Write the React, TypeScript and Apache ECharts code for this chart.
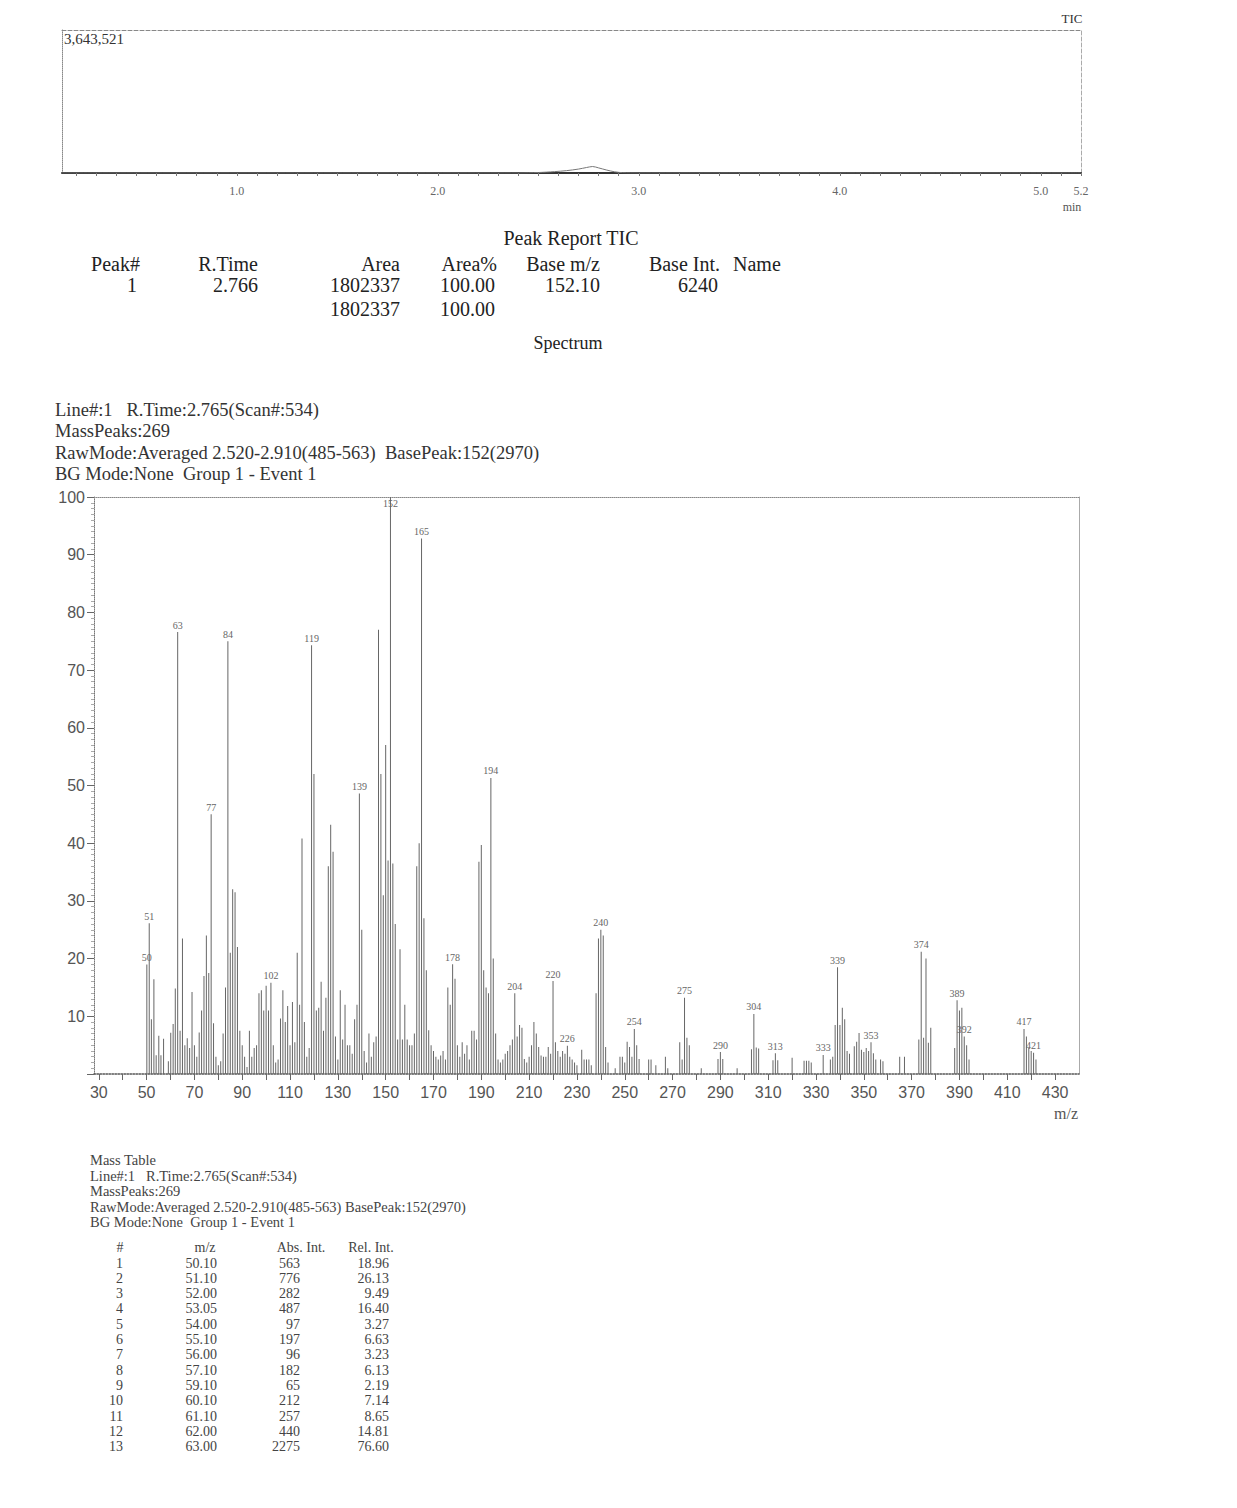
import React, { useEffect, useRef } from "react";
import * as echarts from "echarts";

// ---------------- TIC chromatogram ----------------
const ticTimes = [0.13, 2.4, 2.5, 2.58, 2.64, 2.7, 2.74, 2.77, 2.8, 2.84, 2.88, 2.92, 3.0, 5.2];
const ticIntensity = [0, 0, 12000, 35000, 60000, 100000, 140000, 165000, 130000, 75000, 30000, 8000, 0, 0];
const ticFullScaleLabel = "3,643,521";
const ticFullScale = 3643521;
const ticAxisLabels = [1.0, 2.0, 3.0, 4.0, 5.0, 5.2];

// ---------------- Peak report ----------------
const peakReportTitle = "Peak Report TIC";
const peakColumns = ["Peak#", "R.Time", "Area", "Area%", "Base m/z", "Base Int.", "Name"];
const peakRow = ["1", "2.766", "1802337", "100.00", "152.10", "6240", ""];
const peakTotals = ["", "", "1802337", "100.00", "", "", ""];

// ---------------- Spectrum ----------------
const spectrumTitle = "Spectrum";
const spectrumInfo = [
  "Line#:1   R.Time:2.765(Scan#:534)",
  "MassPeaks:269",
  "RawMode:Averaged 2.520-2.910(485-563)  BasePeak:152(2970)",
  "BG Mode:None  Group 1 - Event 1",
];
const mzValues = [
  50.1, 51.1, 52.0, 53.05, 54.0, 55.1, 56.0, 57.1, 59.1, 60.1, 61.1, 62.0, 63.0,
  64, 65, 66, 67, 68, 69, 70, 71, 72, 73, 74, 75, 76, 77, 78, 79, 80, 81, 82, 83, 84, 85, 86, 87, 88, 89,
  90, 91, 92, 93, 94, 95, 96, 97, 98, 99, 100, 101, 102, 103, 104, 105, 106, 107, 108, 109,
  110, 111, 112, 113, 114, 115, 116, 117, 118, 119, 120, 121, 122, 123, 124, 125, 126, 127, 128, 129,
  130, 131, 132, 133, 134, 135, 136, 137, 138, 139, 140, 141, 142, 143, 144, 145, 146, 147, 148, 149,
  150, 151, 152, 153, 154, 155, 156, 157, 158, 159, 160, 161, 162, 163, 164, 165, 166, 167, 168, 169,
  170, 171, 172, 173, 174, 175, 176, 177, 178, 179, 180, 181, 182, 183, 184, 185, 186, 187, 188, 189,
  190, 191, 192, 193, 194, 195, 196, 197, 198, 199, 200, 201, 202, 203, 204, 205, 206, 207, 208, 209,
  210, 211, 212, 213, 214, 215, 216, 217, 218, 219, 220, 221, 222, 223, 224, 225, 226, 227, 228, 229,
  230, 232, 233, 234, 235, 236, 238, 239, 240, 241, 242, 243, 246, 248, 249, 250, 251, 252, 253, 254,
  255, 256, 260, 261, 263, 267, 268, 273, 274, 275, 276, 277, 282, 289, 290, 291, 297,
  303, 304, 305, 306, 312, 313, 314, 320, 325, 326, 327, 328, 333, 336, 337, 338, 339,
  340, 341, 342, 343, 344, 346, 347, 348, 349, 350, 351, 352, 353, 354, 355, 357, 358, 365, 367,
  373, 374, 375, 376, 377, 378, 388, 389, 390, 391, 392, 393, 394, 417, 418, 419, 420, 421, 422,
];
const relIntensity = [
  18.96, 26.13, 9.49, 16.4, 3.27, 6.63, 3.23, 6.13, 2.19, 7.14, 8.65, 14.81, 76.6,
  7.5, 23.5, 5.0, 6.2, 4.5, 14.2, 5.0, 3.0, 7.2, 11.0, 17.0, 24.0, 17.5, 45.0, 8.8, 3.0, 1.5, 2.2, 7.0, 15.0, 75.0, 21.0, 32.0, 31.5, 22.0, 7.5,
  5.0, 3.0, 1.2, 7.5, 3.0, 4.5, 5.0, 14.0, 14.5, 11.0, 15.3, 11.0, 15.8, 5.0, 2.0, 2.5, 9.6, 14.5, 9.0, 11.8,
  5.0, 12.5, 5.5, 21.0, 12.0, 40.8, 9.0, 3.0, 4.5, 74.3, 52.0, 11.0, 11.5, 16.0, 7.5, 13.2, 36.0, 43.2, 38.5, 6.5,
  2.5, 14.5, 6.0, 12.0, 5.0, 5.0, 3.5, 9.5, 12.0, 48.6, 25.0, 4.0, 2.0, 7.0, 3.0, 5.5, 6.5, 77.0, 52.0, 31.0,
  57.0, 37.0, 100, 36.5, 26.0, 6.0, 21.6, 6.0, 12.0, 6.0, 5.0, 5.0, 7.0, 36.0, 40.0, 92.8, 27.0, 18.0, 7.6, 5.0,
  4.0, 3.0, 2.5, 3.2, 4.0, 2.5, 15.0, 12.0, 19.0, 16.5, 5.0, 3.0, 5.5, 3.5, 5.0, 2.5, 7.5, 7.5, 6.0, 36.8,
  39.7, 18.0, 15.0, 14.0, 51.3, 20.0, 7.0, 2.5, 2.0, 2.5, 3.5, 4.0, 5.0, 6.0, 14.0, 6.5, 8.5, 8.0, 2.6, 2.0,
  3.0, 5.0, 9.0, 7.0, 4.7, 3.2, 3.0, 3.0, 4.7, 3.5, 16.1, 5.5, 4.0, 3.0, 4.0, 3.5, 4.9, 3.0, 2.5, 2.0,
  1.5, 4.2, 2.5, 2.5, 2.5, 1.5, 14.0, 23.5, 25.0, 24.0, 4.7, 2.0, 1.0, 3.0, 3.0, 2.0, 5.6, 4.7, 3.0, 7.8,
  5.0, 2.6, 2.5, 2.5, 1.5, 3.0, 1.0, 5.5, 2.5, 13.2, 6.3, 5.0, 1.0, 2.6, 3.8, 2.6, 1.0,
  4.3, 10.4, 4.6, 4.4, 2.4, 3.6, 2.4, 2.8, 2.3, 2.3, 2.3, 2.0, 3.3, 2.5, 3.0, 8.5, 18.5,
  8.5, 11.5, 9.5, 4.0, 3.5, 4.8, 5.6, 7.1, 4.2, 3.8, 4.5, 4.0, 5.5, 3.6, 2.5, 2.5, 2.2, 3.0, 3.0,
  6.0, 21.2, 6.3, 20.0, 5.4, 8.0, 4.5, 12.8, 11.0, 11.5, 6.5, 5.0, 2.5, 7.8, 6.5, 4.5, 4.0, 3.7, 2.5,
];
const labeledMz = [50, 51, 63, 77, 84, 102, 119, 139, 152, 165, 178, 194, 204, 220, 226, 240, 254, 275, 290, 304, 313, 333, 339, 353, 374, 389, 392, 417, 421];
const mzAxisLabels = [30, 50, 70, 90, 110, 130, 150, 170, 190, 210, 230, 250, 270, 290, 310, 330, 350, 370, 390, 410, 430];
const mzAxisTicks = [30, 40, 50, 60, 70, 80, 90, 100, 110, 120, 130, 140, 150, 160, 170, 180, 190, 200, 210, 220, 230, 240, 250, 260, 270, 280, 290, 300, 310, 320, 330, 340, 350, 360, 370, 380, 390, 400, 410, 420, 430];
const relAxisLabels = [10, 20, 30, 40, 50, 60, 70, 80, 90, 100];
const mzAxisName = "m/z";

// ---------------- Mass table ----------------
const massTableInfo = [
  "Mass Table",
  "Line#:1   R.Time:2.765(Scan#:534)",
  "MassPeaks:269",
  "RawMode:Averaged 2.520-2.910(485-563) BasePeak:152(2970)",
  "BG Mode:None  Group 1 - Event 1",
];
const massColumns = ["#", "m/z", "Abs. Int.", "Rel. Int."];
const massNo = ["1", "2", "3", "4", "5", "6", "7", "8", "9", "10", "11", "12", "13"];
const massMz = ["50.10", "51.10", "52.00", "53.05", "54.00", "55.10", "56.00", "57.10", "59.10", "60.10", "61.10", "62.00", "63.00"];
const massAbs = ["563", "776", "282", "487", "97", "197", "96", "182", "65", "212", "257", "440", "2275"];
const massRel = ["18.96", "26.13", "9.49", "16.40", "3.27", "6.63", "3.23", "6.13", "2.19", "7.14", "8.65", "14.81", "76.60"];

const SERIF = '"Liberation Serif", "Times New Roman", serif';
const SANS = '"Liberation Sans", Arial, sans-serif';

function txt(text: string, x: number, y: number, size: number, align: string = "left", fill: string = "#222") {
  return {
    type: "text",
    x,
    y,
    silent: true,
    style: { text, fill, fontSize: size, fontFamily: SERIF, align, verticalAlign: "middle" },
  };
}

export default function App() {
  const ref = useRef<HTMLDivElement>(null);

  useEffect(() => {
    if (!ref.current) return;
    const chart = echarts.init(ref.current, undefined, { renderer: "svg" });

    const ticTicks: number[] = [];
    for (let i = 2; i <= 52; i++) ticTicks.push(i / 10);

    const graphics: any[] = [];
    // TIC texts
    graphics.push(txt("TIC", 1072, 18, 13, "center", "#333"));
    graphics.push(txt(ticFullScaleLabel, 64, 39, 15, "left", "#333"));
    graphics.push(txt("min", 1072, 207, 12, "center", "#555"));
    // Peak report
    graphics.push(txt(peakReportTitle, 571, 238, 20, "center"));
    const colX = [140, 258, 400, 497, 600, 720, 733];
    const colAlign = ["right", "right", "right", "right", "right", "right", "left"];
    const valX = [137, 258, 400, 495, 600, 718, 733];
    peakColumns.forEach((c, i) => graphics.push(txt(c, colX[i], 264, 20, colAlign[i])));
    peakRow.forEach((c, i) => c && graphics.push(txt(c, valX[i], 285, 20, colAlign[i])));
    peakTotals.forEach((c, i) => c && graphics.push(txt(c, valX[i], 309, 20, colAlign[i])));
    graphics.push(txt(spectrumTitle, 568, 343, 18, "center"));
    // Spectrum info
    spectrumInfo.forEach((s, i) => graphics.push(txt(s, 55, 410 + i * 21.3, 18.5, "left", "#333")));
    graphics.push(txt(mzAxisName, 1066, 1113, 16, "center", "#555"));
    // Mass table
    massTableInfo.forEach((s, i) => graphics.push(txt(s, 90, 1160 + i * 15.5, 14.5, "left", "#444")));
    const mtX = [123, 217, 300, 389];
    graphics.push(txt(massColumns[0], 120, 1247, 14, "center", "#444"));
    graphics.push(txt(massColumns[1], 205, 1247, 14, "center", "#444"));
    graphics.push(txt(massColumns[2], 301, 1247, 14, "center", "#444"));
    graphics.push(txt(massColumns[3], 371, 1247, 14, "center", "#444"));
    massNo.forEach((_, i) => {
      const y = 1263 + i * 15.3;
      graphics.push(txt(massNo[i], mtX[0], y, 14, "right", "#444"));
      graphics.push(txt(massMz[i], mtX[1], y, 14, "right", "#444"));
      graphics.push(txt(massAbs[i], mtX[2], y, 14, "right", "#444"));
      graphics.push(txt(massRel[i], mtX[3], y, 14, "right", "#444"));
    });

    const spectrumData = mzValues.map((mz, i) => {
      const r = Math.round(mz);
      const show = labeledMz.includes(r);
      return {
        value: [mz, relIntensity[i]],
        label: r === 152 ? { show, position: "insideTop", distance: 1 } : { show },
      };
    });

    const option: any = {
      animation: false,
      backgroundColor: "#fff",
      grid: [
        { left: 62, top: 30, width: 1019, height: 143 },
        { left: 94, top: 497, width: 985, height: 577 },
      ],
      xAxis: [
        {
          type: "value",
          gridIndex: 0,
          min: 0.13,
          max: 5.2,
          axisLine: { show: true, onZero: false, lineStyle: { color: "#333", width: 2 } },
          axisTick: { show: true, customValues: ticTicks, length: 3, lineStyle: { color: "#777" } },
          axisLabel: {
            customValues: ticAxisLabels,
            formatter: (v: number) => v.toFixed(1),
            fontFamily: SERIF,
            fontSize: 12,
            color: "#666",
            margin: 12,
          },
          splitLine: { show: false },
        },
        {
          type: "value",
          gridIndex: 0,
          position: "top",
          min: 0.13,
          max: 5.2,
          axisLine: { show: true, onZero: false, lineStyle: { color: "#888", type: "dashed", width: 1 } },
          axisTick: { show: false },
          axisLabel: { show: false },
          splitLine: { show: false },
        },
        {
          type: "value",
          gridIndex: 1,
          min: 28,
          max: 440,
          axisLine: { show: true, onZero: false, lineStyle: { color: "#555", width: 1.5, type: "dotted" } },
          axisTick: { show: true, customValues: mzAxisTicks, length: 6, lineStyle: { color: "#666" } },
          axisLabel: {
            customValues: mzAxisLabels,
            fontFamily: SANS,
            fontSize: 16,
            color: "#555",
            margin: 10,
          },
          splitLine: { show: false },
        },
        {
          type: "value",
          gridIndex: 1,
          position: "top",
          min: 28,
          max: 440,
          axisLine: { show: true, onZero: false, lineStyle: { color: "#888", type: "dotted", width: 1 } },
          axisTick: { show: false },
          axisLabel: { show: false },
          splitLine: { show: false },
        },
      ],
      yAxis: [
        {
          type: "value",
          gridIndex: 0,
          min: 0,
          max: ticFullScale,
          axisLine: { show: true, onZero: false, lineStyle: { color: "#888", type: "dotted" } },
          axisTick: { show: false },
          axisLabel: { show: false },
          splitLine: { show: false },
        },
        {
          type: "value",
          gridIndex: 0,
          position: "right",
          min: 0,
          max: ticFullScale,
          axisLine: { show: true, onZero: false, lineStyle: { color: "#aaa", type: "dashed", width: 1 } },
          axisTick: { show: false },
          axisLabel: { show: false },
          splitLine: { show: false },
        },
        {
          type: "value",
          gridIndex: 1,
          min: 0,
          max: 100,
          interval: 10,
          axisLine: { show: true, onZero: false, lineStyle: { color: "#777", type: "dotted" } },
          axisTick: { show: true, length: 7, lineStyle: { color: "#666" } },
          minorTick: { show: true, splitNumber: 10, length: 3, lineStyle: { color: "#aaa" } },
          axisLabel: {
            formatter: (v: number) => (relAxisLabels.includes(v) ? String(v) : ""),
            fontFamily: SANS,
            fontSize: 16,
            color: "#555",
            margin: 9,
          },
          splitLine: { show: false },
        },
        {
          type: "value",
          gridIndex: 1,
          position: "right",
          min: 0,
          max: 100,
          axisLine: { show: true, onZero: false, lineStyle: { color: "#aaa", width: 1 } },
          axisTick: { show: false },
          axisLabel: { show: false },
          splitLine: { show: false },
        },
      ],
      series: [
        {
          type: "line",
          xAxisIndex: 0,
          yAxisIndex: 0,
          data: ticTimes.map((t, i) => [t, ticIntensity[i]]),
          showSymbol: false,
          symbol: "none",
          smooth: 0.3,
          lineStyle: { color: "#777", width: 1 },
        },
        {
          type: "bar",
          xAxisIndex: 2,
          yAxisIndex: 2,
          barWidth: 1,
          data: spectrumData,
          itemStyle: { color: "#666" },
          label: {
            show: false,
            position: "top",
            distance: 2,
            fontFamily: SERIF,
            fontSize: 10,
            color: "#666",
            formatter: (p: any) => String(Math.round(p.value[0])),
          },
        },
      ],
      graphic: graphics,
    };

    chart.setOption(option);
    return () => chart.dispose();
  }, []);

  return (
    <div
      ref={ref}
      style={{ position: "absolute", left: 0, top: 0, width: 1237, height: 1508, background: "#fff" }}
    />
  );
}
